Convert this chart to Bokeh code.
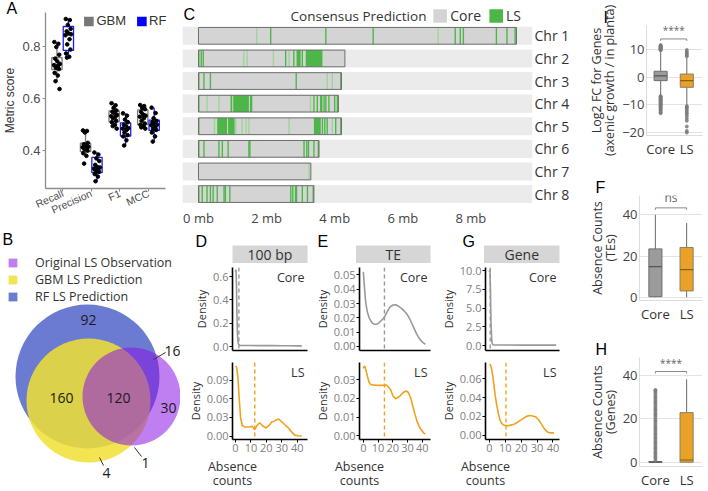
import math
from bokeh.plotting import figure
from bokeh.models import (Range1d, FixedTicker, Label, Legend, LegendItem,
                          PrintfTickFormatter, Span, Title)
from bokeh.layouts import row, column
from bokeh.embed import file_html
from bokeh.resources import INLINE
from bokeh.core.properties import value

# ======================= DATA =======================
# --- A: metric scores (box stats + fold points)
metrics = ["Recall", "Precision", "F1", "MCC"]
models = ["GBM", "RF"]
gbm_q1 = [0.713, 0.396, 0.511, 0.501]
gbm_med = [0.730, 0.413, 0.533, 0.531]
gbm_q3 = [0.759, 0.429, 0.553, 0.557]
gbm_lo = [0.668, 0.380, 0.485, 0.485]
gbm_hi = [0.819, 0.478, 0.583, 0.576]
rf_q1 = [0.787, 0.315, 0.456, 0.478]
rf_med = [0.849, 0.335, 0.485, 0.498]
rf_q3 = [0.879, 0.374, 0.507, 0.518]
rf_lo = [0.759, 0.282, 0.420, 0.435]
rf_hi = [0.908, 0.393, 0.544, 0.566]
gbm_points = [
    [0.819, 0.812, 0.800, 0.770, 0.755, 0.745, 0.735, 0.730, 0.728, 0.720, 0.715, 0.700, 0.690, 0.668, 0.638],
    [0.478, 0.476, 0.470, 0.430, 0.425, 0.420, 0.415, 0.413, 0.410, 0.405, 0.400, 0.390, 0.380, 0.350],
    [0.583, 0.575, 0.565, 0.555, 0.550, 0.545, 0.538, 0.533, 0.530, 0.525, 0.515, 0.510, 0.500, 0.495, 0.485],
    [0.576, 0.572, 0.565, 0.560, 0.550, 0.540, 0.535, 0.531, 0.525, 0.515, 0.505, 0.500, 0.495, 0.490, 0.485],
]
rf_points = [
    [0.908, 0.904, 0.885, 0.870, 0.860, 0.852, 0.849, 0.845, 0.830, 0.810, 0.790, 0.775, 0.762, 0.759],
    [0.393, 0.385, 0.370, 0.360, 0.345, 0.337, 0.335, 0.330, 0.325, 0.320, 0.318, 0.310, 0.300, 0.282],
    [0.544, 0.535, 0.520, 0.510, 0.500, 0.495, 0.487, 0.485, 0.480, 0.470, 0.460, 0.455, 0.440, 0.420],
    [0.566, 0.545, 0.525, 0.515, 0.510, 0.505, 0.500, 0.498, 0.490, 0.485, 0.480, 0.470, 0.455, 0.435],
]
jitter_offsets = [-0.09, 0.05, -0.02, 0.08, -0.06, 0.01, 0.10, -0.10, 0.04, -0.04, 0.07, -0.08, 0.03, -0.05, 0.09]

# --- B: Venn diagram
venn_sets = ["Original LS Observation", "GBM LS Prediction", "RF LS Prediction"]
venn_regions = ["RF only", "GBM & RF", "All three", "Observed only", "Observed & RF", "Observed & GBM", "GBM only"]
venn_counts = [92, 160, 120, 30, 16, 1, 4]

# --- C: consensus prediction along chromosomes (mb)
chr_names = ["Chr 1", "Chr 2", "Chr 3", "Chr 4", "Chr 5", "Chr 6", "Chr 7", "Chr 8"]
chr_len_mb = [9.34, 4.30, 4.20, 4.11, 4.20, 3.54, 3.30, 3.39]
ls_loci = [
    [2.12, 3.74, 5.13, 7.54, 7.69, 7.78, 8.75, 9.06, 9.30],
    [0.01, 0.08, 0.14, 2.56, 2.80, 3.05],
    [0.01, 0.16, 0.35, 2.87, 4.18],
    [0.01, 3.39, 3.49, 3.69, 3.74, 3.83, 4.00, 4.08],
    [0.01, 3.64, 3.71, 3.78, 4.03, 4.18],
    [0.01, 0.16, 0.60, 0.70, 0.87, 1.48, 1.51, 3.10, 3.18, 3.23, 3.39, 3.52],
    [],
    [0.01, 0.11, 0.25, 0.35, 0.43, 0.55, 0.75, 0.79, 0.92, 2.71, 2.77, 2.85, 2.88, 3.05, 3.20, 3.37],
]
ls_loci_faint = [
    [1.71, 7.04],
    [1.33, 1.43, 2.20, 2.66],
    [3.78, 3.93],
    [0.25, 0.60, 3.29],
    [0.47, 1.09, 1.28, 1.40, 1.48, 2.66, 3.93],
    [],
    [3.25],
    [],
]
ls_blocks = [
    [],
    [(2.88, 3.00), (3.15, 3.64)],
    [],
    [(0.94, 0.99), (1.02, 1.48), (1.51, 1.58), (3.57, 3.64)],
    [(0.55, 0.84), (0.87, 1.06), (3.39, 3.59)],
    [], [], [],
]

# --- D / E / G: density of absence counts
deg_titles = ["100 bp", "TE", "Gene"]
core_x = [
    [0, 0.3, 0.6, 0.9, 1.2, 1.6, 2.0, 2.5, 3, 4, 6, 10, 15, 20, 25, 30, 35, 40, 43],
    [0, 0.7, 1.4, 2.2, 3.0, 4.0, 5.0, 6.0, 7.5, 9.0, 10.5, 12.0, 14.0, 16.0, 18.0, 20.0, 22.0,
     24.0, 26.0, 28.0, 30.0, 32.0, 34.0, 36.0, 38.0, 40.0, 42.0],
    [0, 0.3, 0.6, 1.0, 1.5, 2, 3, 5, 10, 20, 30, 40, 42],
]
core_d = [
    [0.64, 0.66, 0.55, 0.30, 0.12, 0.04, 0.018, 0.012, 0.010, 0.009, 0.0085, 0.0085, 0.008,
     0.008, 0.0075, 0.007, 0.0065, 0.006, 0.0055],
    [0.052, 0.042, 0.033, 0.027, 0.023, 0.020, 0.018, 0.0165, 0.0155, 0.0155, 0.0165, 0.018, 0.020,
     0.024, 0.0275, 0.029, 0.0292, 0.028, 0.0265, 0.0245, 0.022, 0.018, 0.0135, 0.009, 0.0055, 0.003, 0.0015],
    [9.8, 10.1, 8.0, 3.0, 0.6, 0.15, 0.11, 0.10, 0.10, 0.09, 0.09, 0.09, 0.09],
]
ls_x = [
    [0, 0.7, 1.5, 2.4, 3.3, 4.4, 6, 7.7, 9.5, 10.9, 12.5, 13.8, 15.7, 17.5, 19.7, 21.9, 23.4, 25.1,
     26.5, 28, 29.5, 31.7, 33.9, 36.1, 38.3, 40.4, 43],
    [0, 0.5, 1.2, 2.0, 3.0, 4.0, 5.0, 6.5, 8, 10, 12, 14, 15.5, 17, 18.6, 20, 21.8, 23.5, 25, 27,
     29, 30.5, 32, 33.5, 35, 36.5, 38, 39.5, 41, 42],
    [0, 0.5, 1.2, 2, 2.8, 3.6, 4.6, 5.7, 6.7, 7.7, 9, 10.8, 13, 15.9, 18.5, 21.1, 23, 25.2, 27.3,
     29.3, 31, 32.4, 34.5, 36.5, 38.5, 40.6],
]
ls_d = [
    [0.1125, 0.111, 0.096, 0.061, 0.029, 0.0165, 0.0148, 0.0145, 0.015, 0.0155, 0.0105, 0.0165,
     0.0215, 0.0165, 0.013, 0.0175, 0.0225, 0.024, 0.026, 0.0275, 0.024, 0.019, 0.014, 0.0075,
     0.0015, 0.0005, 0.0],
    [0.036, 0.0372, 0.0368, 0.0345, 0.031, 0.0285, 0.0275, 0.0272, 0.0271, 0.027, 0.027, 0.0271,
     0.0272, 0.0262, 0.0245, 0.0215, 0.0198, 0.0205, 0.0215, 0.0232, 0.024, 0.0232, 0.0205, 0.016,
     0.0115, 0.0075, 0.0048, 0.003, 0.0015, 0.001],
    [0.075, 0.0753, 0.072, 0.0643, 0.054, 0.0426, 0.032, 0.0226, 0.016, 0.0126, 0.0108, 0.010,
     0.0105, 0.012, 0.0148, 0.0176, 0.0198, 0.021, 0.0205, 0.0193, 0.0165, 0.0126, 0.007, 0.0035,
     0.0025, 0.0025],
]
core_mean = [2.2, 14.3, 0.5]
ls_mean = [12.5, 14.3, 10.4]

# --- I / F / H: Core vs LS box plots
groups = ["Core", "LS"]
i_q1, i_med, i_q3, i_lo, i_hi = [-1.2, -3.6], [0.5, -1.2], [2.2, 1.2], [-6.6, -9.9], [9.6, 7.2]
i_out = [
    [9.8, 10.0, 10.1, 10.3, 10.4, 10.6, 10.7, 10.9, 11.0, 11.2, 11.4, 11.7,
     -6.8, -7.0, -7.3, -7.5, -7.8, -8.0, -8.3, -8.5, -8.8, -9.1, -9.4, -9.7, -10.0, -10.3,
     -10.6, -11.0, -11.3, -11.7, -12.1, -12.6, -13.0],
    [7.6, 8.1, 8.6, 9.2, 9.9, -10.4, -10.8, -11.3, -11.9, -12.6, -13.2, -14.0, -14.9, -15.7,
     -17.8, -19.4, -20.0],
]
f_q1, f_med, f_q3, f_lo, f_hi = [0.3, 3.1], [14.9, 13.4], [23.5, 24.2], [0.0, 0.0], [40.0, 36.0]
f_out = [[], []]
h_q1, h_med, h_q3, h_lo, h_hi = [0.0, 0.0], [0.0, 1.0], [0.3, 22.9], [0.0, 0.0], [0.5, 38.4]
h_out = [
    [0.8, 1.7, 2.4, 3.3, 4.2, 4.9, 5.9, 6.6, 7.5, 8.5, 9.2, 10.1, 11.0, 11.7, 12.7, 13.4, 14.4,
     15.3, 16.0, 16.9, 17.8, 18.7, 19.4, 20.3, 21.3, 22.0, 22.8, 23.8, 24.5, 25.4, 26.3, 27.2,
     27.9, 28.8, 29.7, 30.4, 31.4, 32.2, 33.0, 33.4],
    [],
]
sig_labels = ["****", "ns", "****"]

# ======================= LAYOUT HELPERS =======================
# Bokeh's standalone page has no body margin, so page pixels map 1:1 (708 x 491).
FONT = "Open Sans"
AFONT = "Liberation Sans"
NAN = float("nan")


def X(v):
    return int(round(v))


def Y(v):
    return int(round(v))


def mk(box, frame, **kw):
    x0, y0, x1, y1 = box
    fl, ft, fr, fb = frame
    p = figure(width=X(x1) - X(x0), height=Y(y1) - Y(y0),
               min_border_left=X(fl) - X(x0), min_border_right=X(x1) - X(fr),
               min_border_top=Y(ft) - Y(y0), min_border_bottom=Y(y1) - Y(fb),
               toolbar_location=None, output_backend="svg", **kw)
    p.outline_line_color = None
    p.border_fill_color = "white"
    p.background_fill_color = "white"
    return p, frame


def corner_label(p, text, size=12.5):
    # text in the top-right corner of a plot frame, anchored to the data range end
    p.add_layout(Label(x=p.x_range.end, y=p.y_range.end, x_offset=-3, y_offset=-1, text=text,
                       text_font=FONT, text_font_size=f"{size}px", text_color="#333333",
                       text_align="right", text_baseline="top"))


def letter_title(p, txt, offset, size=16, standoff=0):
    p.add_layout(Title(text=txt, align="left", offset=offset,
                       text_font=AFONT, text_font_size=f"{size}px", text_font_style="normal",
                       text_color="black", standoff=standoff), "above")


def swatch(p, color, alpha=1.0):
    # legend-only renderer (its single quad is not drawn: NaN coordinates)
    return p.quad(left=[NAN], right=[NAN], top=[NAN], bottom=[NAN], fill_color=color,
                  fill_alpha=alpha, line_color=None)


def W(p):
    return column(p)


# ======================= PANEL A =======================
pA, frA = mk((0, 0, 180, 228), (42, 12, 170, 188),
             x_range=Range1d(0.4, 4.771), y_range=Range1d(0.254, 0.933))
pA.grid.visible = False
box_specs = [
    ("GBM", -0.2, "#7a7a7a", "#777777", gbm_q1, gbm_med, gbm_q3, gbm_lo, gbm_hi, gbm_points),
    ("RF", 0.2, "#1a1aff", "#0000ff", rf_q1, rf_med, rf_q3, rf_lo, rf_hi, rf_points),
]
legend_rs = []
for name, off, lc, sq, q1, med, q3, lo, hi, pts in box_specs:
    xs = [i + 1 + off for i in range(len(metrics))]
    pA.segment(x0=xs, y0=lo, x1=xs, y1=q1, line_color=lc, line_width=1.3)
    pA.segment(x0=xs, y0=q3, x1=xs, y1=hi, line_color=lc, line_width=1.3)
    pA.vbar(x=xs, width=0.36, bottom=q1, top=q3, fill_color="white", fill_alpha=0.0,
            line_color=lc, line_width=1.3)
    pA.segment(x0=[x - 0.18 for x in xs], y0=med, x1=[x + 0.18 for x in xs], y1=med,
               line_color=lc, line_width=1.3)
    px, py = [], []
    for i, vals in enumerate(pts):
        for k, v in enumerate(vals):
            px.append(xs[i] + jitter_offsets[k % len(jitter_offsets)])
            py.append(v)
    pA.scatter(px, py, size=3.6, color="black")
    legend_rs.append(swatch(pA, sq))

legA = Legend(items=[LegendItem(label=m, renderers=[r]) for m, r in zip(models, legend_rs)],
              orientation="horizontal", location="top_right",
              border_line_color=None, background_fill_alpha=0, padding=0, margin=1,
              glyph_width=12, glyph_height=12, label_height=12, label_standoff=2, spacing=9,
              label_text_font=AFONT, label_text_font_size="13px", label_text_color="#333333")
pA.add_layout(legA)

pA.xaxis.ticker = FixedTicker(ticks=[1, 2, 3, 4])
pA.xaxis.major_label_overrides = {i + 1: m for i, m in enumerate(metrics)}
pA.xaxis.major_label_orientation = 0.42
pA.xaxis.bounds = (0.4, 4.6)
pA.yaxis.ticker = FixedTicker(ticks=[0.4, 0.6, 0.8])
pA.yaxis.formatter = PrintfTickFormatter(format="%.1f")
pA.yaxis.axis_label = "Metric score"
for ax in (pA.xaxis[0], pA.yaxis[0]):
    ax.axis_line_color = "#8c8c8c"
    ax.axis_line_width = 1.3
    ax.major_tick_line_color = "#8c8c8c"
    ax.major_tick_out = 3
    ax.major_tick_in = 0
    ax.minor_tick_line_color = None
    ax.major_label_text_font = AFONT
    ax.major_label_text_color = "#4d4d4d"
    ax.major_label_standoff = 2
    ax.axis_label_text_font = AFONT
    ax.axis_label_text_font_style = "normal"
    ax.axis_label_text_font_size = "12px"
    ax.axis_label_text_color = "#333333"
    ax.axis_label_standoff = 2
pA.xaxis.major_label_text_font_size = "10.5px"
pA.xaxis.major_label_standoff = 1
pA.yaxis.major_label_text_font_size = "13px"
letter_title(pA, "A", X(3) - X(42), standoff=-8)

# ======================= PANEL B =======================
pB = figure(width=X(180) - X(0), height=Y(491) - Y(228), x_range=Range1d(0, 180),
            y_range=Range1d(491, 228), x_axis_type=None, y_axis_type=None,
            min_border_left=0, min_border_right=0, min_border_top=0, min_border_bottom=0,
            toolbar_location=None, output_backend="svg")
pB.outline_line_color = None
pB.grid.visible = False
# circle geometry (Venn layout) for RF, GBM, observed
venn_geom = {"RF LS Prediction": (87, 376, 72), "GBM LS Prediction": (88, 400, 62),
             "Original LS Observation": (131, 396, 49)}
venn_fill = {"RF LS Prediction": ("#5b6dcc", 0.9), "GBM LS Prediction": ("#f0e132", 0.85),
             "Original LS Observation": ("#8b15e3", 0.55)}
for s in ["RF LS Prediction", "GBM LS Prediction", "Original LS Observation"]:
    cx, cy, r = venn_geom[s]
    c, a = venn_fill[s]
    pB.circle(x=[cx], y=[cy], radius=r, fill_color=c, fill_alpha=a, line_color=None)
region_pos = [(88, 319), (61, 397), (118, 397), (168, 407), (172, 350), (145, 462), (106, 472)]
pB.text(x=[p[0] for p in region_pos], y=[p[1] for p in region_pos],
        text=[str(c) for c in venn_counts], text_align="center", text_baseline="middle",
        text_font=value(FONT), text_font_size="14px", text_color="#1a1a1a")
leaders = [(153, 359, 165, 352), (134, 447, 141, 456), (99, 457, 103, 465)]
pB.segment(x0=[l[0] for l in leaders], y0=[l[1] for l in leaders],
           x1=[l[2] for l in leaders], y1=[l[3] for l in leaders], line_color="#333333", line_width=1)
leg_rs = [swatch(pB, venn_fill[s][0], venn_fill[s][1]) for s in venn_sets]
legB = Legend(items=[LegendItem(label=s, renderers=[r]) for s, r in zip(venn_sets, leg_rs)],
              location=(X(7), Y(491) - Y(305)), border_line_color=None, background_fill_alpha=0,
              padding=0, margin=0, glyph_width=11, glyph_height=11, label_height=11,
              label_standoff=17, spacing=0, label_text_font=FONT, label_text_font_size="12.5px",
              label_text_color="#333333")
pB.add_layout(legB)
pB.text(x=[2], y=[230], text=["B"], text_font=value(AFONT), text_font_size="16px",
        text_color="black", text_baseline="top")

# ======================= PANEL C =======================
C_X0, C_X1 = -0.47, 9.81
C_Y0, C_Y1 = 8.55, -0.563
pC, frC = mk((180, 0, 585, 229), (182, 0, 531.7, 208.7),
             x_range=Range1d(C_X0, C_X1), y_range=Range1d(C_Y0, C_Y1), y_axis_location="right")


def cxd(px):  # page-pixel -> C data x (for annotation placement)
    return C_X0 + (px - 182) / (531.7 - 182) * (C_X1 - C_X0)


def cyd(py):
    return C_Y1 + py / 208.7 * (C_Y0 - C_Y1)


pC.grid.visible = False
nchr = len(chr_names)
ys = [i + 1 for i in range(nchr)]
pC.quad(left=[pC.x_range.start] * nchr, right=[pC.x_range.end] * nchr,
        top=[y - 0.4 for y in ys], bottom=[y + 0.4 for y in ys], fill_color="#ebebeb", line_color=None)
pC.quad(left=[0] * nchr, right=chr_len_mb, top=[y - 0.37 for y in ys], bottom=[y + 0.37 for y in ys],
        fill_color="#d4d4d4", line_color=None)
LW = 0.04
for lst, col in ((ls_loci_faint, "#9ed49a"), (ls_loci, "#4cb748")):
    L, R, T, B_ = [], [], [], []
    for i, pos in enumerate(lst):
        for v in pos:
            L.append(v - LW / 2); R.append(v + LW / 2); T.append(ys[i] - 0.37); B_.append(ys[i] + 0.37)
    pC.quad(left=L, right=R, top=T, bottom=B_, fill_color=col, line_color=None)
L, R, T, B_ = [], [], [], []
for i, blks in enumerate(ls_blocks):
    for a, b in blks:
        L.append(a); R.append(b); T.append(ys[i] - 0.37); B_.append(ys[i] + 0.37)
pC.quad(left=L, right=R, top=T, bottom=B_, fill_color="#4cb748", line_color=None)
pC.quad(left=[0] * nchr, right=chr_len_mb, top=[y - 0.37 for y in ys], bottom=[y + 0.37 for y in ys],
        fill_color=None, line_color="#6e6e6e", line_width=1)
core_r = swatch(pC, "#d4d4d4")
ls_r = swatch(pC, "#4cb748")
legC = Legend(items=[LegendItem(label="Core", renderers=[core_r]), LegendItem(label="LS", renderers=[ls_r])],
              orientation="horizontal", location="top_right",
              border_line_color=None, background_fill_alpha=0, padding=0, margin=6,
              glyph_width=17, glyph_height=17, label_height=17, label_standoff=2, spacing=6,
              label_text_font=FONT, label_text_font_size="14px", label_text_color="#333333")
pC.add_layout(legC)
pC.add_layout(Label(x=cxd(290), y=cyd(16), text="Consensus Prediction", text_font=FONT,
                    text_font_size="13.5px", text_color="#333333", text_baseline="middle"))
pC.add_layout(Label(x=cxd(183), y=cyd(6), text="C", text_font=AFONT, text_font_size="16px",
                    text_color="black", text_baseline="top"))
pC.yaxis.ticker = FixedTicker(ticks=ys)
pC.yaxis.major_label_overrides = {y: n for y, n in zip(ys, chr_names)}
pC.xaxis.ticker = FixedTicker(ticks=[0, 2, 4, 6, 8])
pC.xaxis.major_label_overrides = {v: f"{v} mb" for v in [0, 2, 4, 6, 8]}
for ax in (pC.xaxis[0], pC.yaxis[0]):
    ax.axis_line_color = None
    ax.major_tick_line_color = None
    ax.major_tick_out = 0
    ax.major_tick_in = 0
    ax.minor_tick_line_color = None
    ax.major_label_text_font = FONT
    ax.major_label_standoff = 2
pC.yaxis.major_label_text_font_size = "14px"
pC.yaxis.major_label_text_color = "#333333"
pC.xaxis.major_label_text_font_size = "13px"
pC.xaxis.major_label_text_color = "#444444"

# ======================= PANELS D / E / G =======================
deg_cols = [
    dict(x0=180, x1=311, fl=232, fr=307, letter="D", lx=195,
         xr=(-1.95, 46.7), ytop=(-0.034, 0.678), tt=[0, 0.2, 0.4, 0.6], ft="%.1f",
         ybot=(-0.0056, 0.1185), tb=[0, 0.03, 0.06, 0.09], fb="%.2f"),
    dict(x0=311, x1=437, fl=355.5, fr=430, letter="E", lx=317,
         xr=(-2.6, 45.5), ytop=(-0.0028, 0.0552), tt=[0, 0.01, 0.02, 0.03, 0.04, 0.05], ft="%.2f",
         ybot=(-0.0019, 0.0392), tb=[0, 0.01, 0.02, 0.03], fb="%.2f"),
    dict(x0=437, x1=585, fl=483.5, fr=559, letter="G", lx=462,
         xr=(-2.47, 44.1), ytop=(-0.625, 10.41), tt=[0, 2.5, 5, 7.5, 10], ft="%.1f",
         ybot=(-0.0045, 0.0773), tb=[0, 0.02, 0.04, 0.06], fb="%.2f"),
]
GREY = "#999999"
ORANGE = "#eea21d"


def style_deg_axes(p, show_x_labels):
    for ax in (p.xaxis[0], p.yaxis[0]):
        ax.axis_line_color = "black"
        ax.axis_line_width = 1.6
        ax.major_tick_line_color = "black"
        ax.major_tick_out = 3
        ax.major_tick_in = 0
        ax.minor_tick_line_color = None
        ax.major_label_text_font = FONT
        ax.major_label_text_font_size = "11px"
        ax.major_label_text_color = "#808080"
        ax.major_label_standoff = 1
        ax.axis_label_text_font = FONT
        ax.axis_label_text_font_size = "11px"
        ax.axis_label_text_font_style = "normal"
        ax.axis_label_text_color = "#333333"
        ax.axis_label_standoff = 1
    p.yaxis.axis_label = "Density"
    if show_x_labels:
        p.xaxis.ticker = FixedTicker(ticks=[0, 10, 20, 30, 40])
        p.xaxis.axis_label = "Absence\ncounts"
        p.xaxis.axis_label_text_font_size = "12.5px"
        p.xaxis.axis_label_text_align = "left"
        p.xaxis.axis_label_text_line_height = 0.85
        p.xaxis.axis_label_standoff = 3
        try:
            p.xaxis.axis_label_align = "start"
        except Exception:
            pass
    else:
        p.xaxis.ticker = FixedTicker(ticks=[])
        p.xaxis.major_label_text_font_size = "0px"
        p.xaxis.major_label_standoff = 0
        p.xaxis.major_tick_out = 0
    p.grid.visible = False


deg_columns = []
for k, c in enumerate(deg_cols):
    # strip with facet title + panel letter (frame = whole strip figure, page-pixel coordinates)
    ps, frs = mk((c["x0"], 229, c["x1"], 263), (c["x0"], 229, c["x1"], 263),
                 x_axis_type=None, y_axis_type=None,
                 x_range=Range1d(c["x0"], c["x1"]), y_range=Range1d(263, 229))
    ps.grid.visible = False
    ps.quad(left=[c["fl"]], right=[c["fr"]], top=[245], bottom=[263], fill_color="#d6d6d6",
            line_color=None)
    ps.text(x=[(c["fl"] + c["fr"]) / 2], y=[254], text=[deg_titles[k]], text_align="center",
            text_baseline="middle", text_font=value(FONT), text_font_size="14px", text_color="#333333")
    ps.text(x=[c["lx"]], y=[232], text=[c["letter"]], text_baseline="top",
            text_font=value(AFONT), text_font_size="16px", text_color="black")
    # Core density
    pt, frt = mk((c["x0"], 263, c["x1"], 356), (c["fl"], 267, c["fr"], 350),
                 x_range=Range1d(*c["xr"]), y_range=Range1d(*c["ytop"]))
    pt.line(core_x[k], core_d[k], line_color=GREY, line_width=1.6)
    pt.add_layout(Span(location=core_mean[k], dimension="height", line_color=GREY,
                       line_dash="4 3", line_width=1.4))
    style_deg_axes(pt, False)
    pt.yaxis.ticker = FixedTicker(ticks=c["tt"])
    pt.yaxis.formatter = PrintfTickFormatter(format=c["ft"])
    corner_label(pt, "Core")
    # LS density
    pb, frb = mk((c["x0"], 356, c["x1"], 491), (c["fl"], 362, c["fr"], 444),
                 x_range=Range1d(*c["xr"]), y_range=Range1d(*c["ybot"]))
    pb.line(ls_x[k], ls_d[k], line_color=ORANGE, line_width=1.6)
    pb.add_layout(Span(location=ls_mean[k], dimension="height", line_color=ORANGE,
                       line_dash="4 3", line_width=1.4))
    style_deg_axes(pb, True)
    pb.yaxis.ticker = FixedTicker(ticks=c["tb"])
    pb.yaxis.formatter = PrintfTickFormatter(format=c["fb"])
    corner_label(pb, "LS")
    deg_columns.append(column(W(ps), W(pt), W(pb)))

# ======================= PANELS I / F / H =======================
CORE_FILL, CORE_LINE = "#9b9b9b", "#6f6f6f"
LS_FILL, LS_LINE = "#e9a227", "#8c7e63"


def boxpanel(box, frame, yr, xr, yticks, q1, med, q3, lo, hi, outl, sig_y, sig_txt, bw,
             ylabel, let, let_x):
    p, fr = mk(box, frame, x_range=Range1d(*xr), y_range=Range1d(*yr))
    p.xgrid.visible = False
    p.ygrid.ticker = FixedTicker(ticks=yticks)
    p.ygrid.grid_line_color = "#e3e3e3"
    p.ygrid.grid_line_width = 1
    xs = [1, 2]
    fills = [CORE_FILL, LS_FILL]
    lines = [CORE_LINE, LS_LINE]
    p.segment(x0=xs, y0=lo, x1=xs, y1=q1, line_color="#777777", line_width=1.1)
    p.segment(x0=xs, y0=q3, x1=xs, y1=hi, line_color="#777777", line_width=1.1)
    p.vbar(x=xs, width=bw, bottom=q1, top=q3, fill_color=fills, line_color=lines, line_width=1)
    p.segment(x0=[x - bw / 2 for x in xs], y0=med, x1=[x + bw / 2 for x in xs], y1=med,
              line_color=["#555555", "#8a5f14"], line_width=1.2)
    ox, oy = [], []
    for i, vals in enumerate(outl):
        for v in vals:
            ox.append(xs[i]); oy.append(v)
    p.scatter(ox, oy, size=3, color="#7a7a7a", alpha=0.8)
    tick = (yr[1] - yr[0]) * 0.018
    p.multi_line(xs=[[1, 1, 2, 2]], ys=[[sig_y - tick, sig_y, sig_y, sig_y - tick]],
                 line_color="#888888", line_width=1)
    p.text(x=[1.5], y=[sig_y + tick * 0.8], text=[sig_txt], text_align="center",
           text_baseline="bottom", text_font=value(FONT),
           text_font_size="10px" if sig_txt != "ns" else "12px", text_color="#666666")
    p.xaxis.ticker = FixedTicker(ticks=xs)
    p.xaxis.major_label_overrides = {1: groups[0], 2: groups[1]}
    p.yaxis.ticker = FixedTicker(ticks=yticks)
    for ax in (p.xaxis[0], p.yaxis[0]):
        ax.axis_line_color = "#dddddd"
        ax.axis_line_width = 1
        ax.major_tick_line_color = None
        ax.major_tick_out = 0
        ax.major_tick_in = 0
        ax.minor_tick_line_color = None
        ax.major_label_text_font = FONT
        ax.major_label_text_font_size = "13px"
        ax.major_label_text_color = "#444444"
        ax.major_label_standoff = 4
    p.yaxis.major_label_standoff = 2
    p.xaxis.major_label_text_color = "#333333"
    p.yaxis.axis_label = ylabel
    p.yaxis.axis_label_text_font = FONT
    p.yaxis.axis_label_text_font_size = "12.5px"
    p.yaxis.axis_label_text_font_style = "normal"
    p.yaxis.axis_label_text_color = "#333333"
    p.yaxis.axis_label_text_align = "left"
    p.yaxis.axis_label_text_line_height = 0.75
    p.yaxis.axis_label_standoff = 1
    letter_title(p, let, X(let_x) - X(frame[0]))
    return p


pI = boxpanel((585, 0, 708, 168), (640, 25, 702.5, 135), (-21.05, 18.77), (0.46, 2.6),
              [-20, -10, 0, 10], i_q1, i_med, i_q3, i_lo, i_hi, i_out, 13.9, sig_labels[0], 0.5,
              "Log2 FC for Genes\n(axenic growth / in planta)", "I", 597)
pF = boxpanel((585, 168, 708, 325), (634.3, 195, 701.7, 303.3), (-1.55, 49.4), (0.49, 2.51),
              [0, 20, 40], f_q1, f_med, f_q3, f_lo, f_hi, f_out, 43.4, sig_labels[1], 0.42,
              "Absence Counts\n(TEs)", "F", 590)
pH = boxpanel((585, 325, 708, 491), (634.3, 356.7, 701.7, 466.7), (-2.0, 48.4), (0.49, 2.51),
              [0, 20, 40], h_q1, h_med, h_q3, h_lo, h_hi, h_out, 41.9, sig_labels[2], 0.42,
              "Absence Counts\n(Genes)", "H", 590)

# ======================= ASSEMBLE =======================
layout = row(
    column(W(pA), W(pB)),
    column(W(pC), row(*deg_columns)),
    column(W(pI), W(pF), W(pH)),
)
open("out.html", "w").write(file_html(layout, INLINE))
